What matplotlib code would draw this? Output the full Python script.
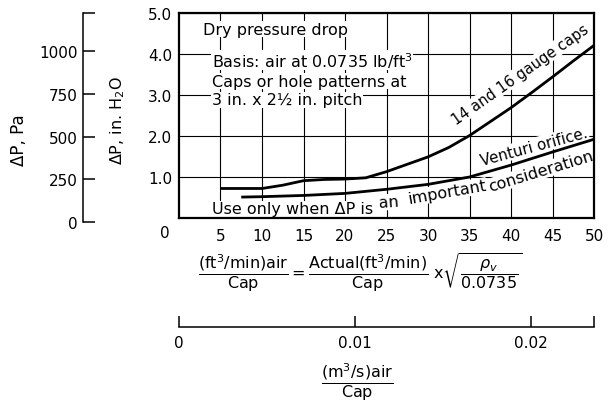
import matplotlib
matplotlib.use("Agg")
import matplotlib.pyplot as plt

plt.rcParams['font.family'] = ['DejaVu Sans']
plt.rcParams['mathtext.fontset'] = 'dejavusans'

# values: x = (ft3/min)air per cap, y = dP in in. H2O
caps_x = [5, 10, 12.5, 15, 17.5, 20, 22.5, 25, 27.5, 30, 32.5, 35, 37.5, 40, 42.5, 45, 47.5, 50]
caps_y = [0.72, 0.72, 0.80, 0.91, 0.94, 0.95, 0.98, 1.13, 1.31, 1.49, 1.72, 2.01, 2.35, 2.69, 3.06, 3.44, 3.83, 4.21]
venturi_x = [7.5, 10, 15, 20, 25, 30, 35, 40, 45, 50]
venturi_y = [0.51, 0.52, 0.55, 0.60, 0.70, 0.82, 1.00, 1.29, 1.61, 1.92]

x_ticks = [5, 10, 15, 20, 25, 30, 35, 40, 45, 50]
y_ticks = [1.0, 2.0, 3.0, 4.0, 5.0]
pa_ticks = [0, 250, 500, 750, 1000]
pa_top = 1225
m3s_ticks = [0, 0.01, 0.02]
CFM_TO_M3S = 0.000471947

W, H = 609, 402
fig = plt.figure(figsize=(W / 100, H / 100), dpi=100)


def box(l, t, r, b):
    return [l / W, 1 - b / H, (r - l) / W, (b - t) / H]


def fx(px, py):
    return px / W, 1 - py / H


FS = 11.5

# main chart
ax = fig.add_axes(box(179, 14, 594, 219))
ax.set_axisbelow(True)
ax.set_xlim(0, 50)
ax.set_ylim(0, 5)
ax.set_xticks(x_ticks)
ax.set_xticklabels([str(v) for v in x_ticks])
ax.set_yticks(y_ticks)
ax.set_yticklabels(['%.1f' % v for v in y_ticks])
ax.tick_params(axis='x', length=0, labelsize=11, pad=7)
ax.tick_params(axis='y', length=0, labelsize=11, pad=5)
ax.grid(True, color='black', lw=0.8)
for s in ax.spines.values():
    s.set_linewidth(1.6)
    s.set_zorder(3)
ax.plot(caps_x, caps_y, color='black', lw=2.0, solid_capstyle='butt', zorder=2)
ax.plot(venturi_x, venturi_y, color='black', lw=2.0, solid_capstyle='butt', zorder=2)
fig.text(*fx(165, 234), '0', ha='center', va='center', fontsize=11)

# Pa scale
pa = fig.add_axes(box(83, 14, 84, 222.7))
pa.patch.set_visible(False)
for k in ['right', 'top', 'bottom']:
    pa.spines[k].set_visible(False)
pa.spines['left'].set_linewidth(1.1)
pa.set_ylim(0, pa_top)
pa.set_xticks([])
pa.set_yticks(pa_ticks + [pa_top])
pa.set_yticklabels([str(v) for v in pa_ticks] + [''])
pa.tick_params(axis='y', direction='in', length=8.5, width=1.1, labelsize=11, pad=4)

# m3/s scale
sc = fig.add_axes(box(179, 327, 594, 328))
sc.patch.set_visible(False)
for k in ['left', 'right', 'top']:
    sc.spines[k].set_visible(False)
sc.spines['bottom'].set_linewidth(1.1)
sc.set_xlim(0, 50 * CFM_TO_M3S)
sc.set_yticks([])
sc.set_xticks(m3s_ticks + [50 * CFM_TO_M3S])
sc.set_xticklabels(['0', '0.01', '0.02', ''])
sc.tick_params(axis='x', direction='in', length=8, width=1.1, labelsize=11, pad=6)

# axis titles
fig.text(*fx(118, 121), 'ΔP, in. H$_2$O', rotation=90, ha='center', va='center', fontsize=FS)
fig.text(*fx(19, 140), 'ΔP, Pa', rotation=90, ha='center', va='center', fontsize=12)

# notes inside the chart: white boxes hide the grid but sit under the curves
bb = dict(facecolor='white', edgecolor='none', pad=0.5)


def note(px, py, s, rot=0, ha='left', size=FS):
    ax.text(*fx(px, py), s, transform=fig.transFigure, rotation=rot, rotation_mode='anchor',
            ha=ha, va='center', fontsize=size, bbox=bb, zorder=1)


note(203, 30, 'Dry pressure drop')
note(212, 61, 'Basis: air at 0.0735 lb/ft$^3$')
note(212, 82, 'Caps or hole patterns at')
note(212, 101, '3 in. x 2½ in. pitch')

note(520, 75, '14 and 16 gauge caps', rot=35, ha='center', size=10.5)
note(534, 147, 'Venturi orifice.', rot=15, ha='center', size=10.8)
note(212, 210, 'Use only when ΔP is')
note(389, 203, 'an', rot=4, ha='center')
note(447, 193, 'important', rot=10, ha='center')
note(541, 172, 'consideration', rot=17, ha='center')

# formula and lower scale title
fig.text(*fx(360, 273),
         r'$\dfrac{(\mathrm{ft}^3/\mathrm{min})\mathrm{air}}{\mathrm{Cap}}=\dfrac{\mathrm{Actual}(\mathrm{ft}^3/\mathrm{min})}{\mathrm{Cap}}\ \mathrm{x}\sqrt{\dfrac{\rho_v}{0.0735}}$',
         ha='center', va='center', fontsize=FS)
fig.text(*fx(357, 382), r'$\dfrac{(\mathrm{m}^3/\mathrm{s})\mathrm{air}}{\mathrm{Cap}}$',
         ha='center', va='center', fontsize=FS)

fig.savefig('out.png', dpi=100)
